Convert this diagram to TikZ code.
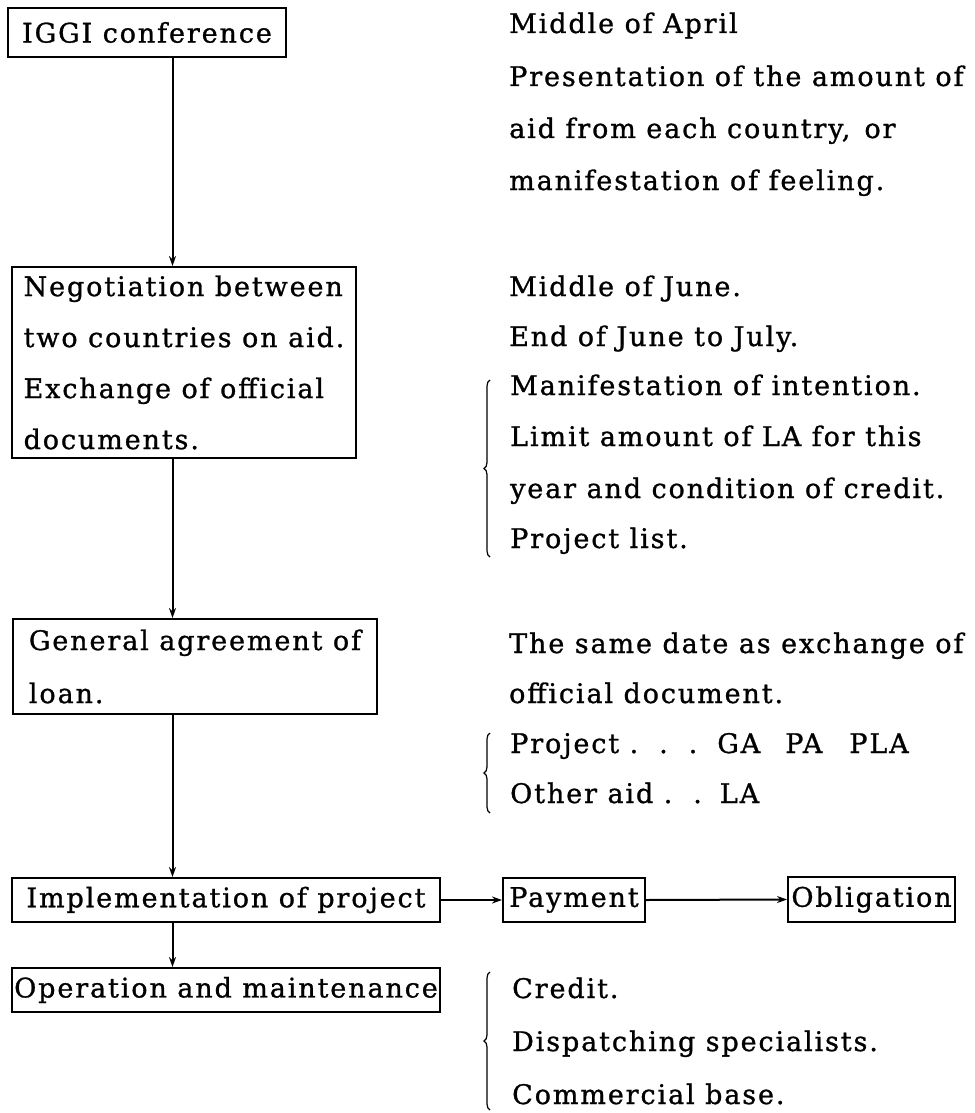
\documentclass[tikz,border=0pt]{standalone}
\usepackage{fontspec}
\newfontfamily\typefont{DejaVu Serif}[LetterSpace=7, FakeBold=1]
\usetikzlibrary{arrows.meta,decorations.pathreplacing}
\newcommand\boxtext{\typefont\fontsize{27}{51}\selectfont}
\newcommand\boxtextwide{\typefont\fontsize{27}{53}\selectfont}

\tikzset{
  stepbox/.style={draw, line width=2pt, rectangle, inner sep=0pt,
    align=left, font=\boxtext},
  note/.style={anchor=base west, inner sep=0pt, font=\boxtext},
  flow/.style={line width=2pt, -{Stealth[length=10pt,width=7pt]}},
  bracket/.style={line width=1.2pt, decorate,
    decoration={brace, amplitude=6pt, aspect=0.5}},
}

\begin{document}
\begin{tikzpicture}[x=1pt, y=-1pt]
  \useasboundingbox[fill=white] (0,0) rectangle (974,1113);

  % left column: the chain of steps
  \node[stepbox, minimum width=278pt, minimum height=49pt] (conf) at (147,32.5)
    {IGGI conference};
  \node[stepbox, minimum width=344pt, minimum height=191pt] (nego) at (184,362.5)
    {Negotiation between\\two countries on aid.\\Exchange of official\\documents.};
  \node[stepbox, font=\boxtextwide, minimum width=364pt, minimum height=95pt] (agree) at (195,666.5)
    {General agreement of\\loan.};
  \node[stepbox, minimum width=428pt, minimum height=44pt] (impl) at (226,900)
    {Implementation of project};
  \node[stepbox, minimum width=428pt, minimum height=44pt] (oper) at (226,990)
    {Operation and maintenance};
  \node[stepbox, minimum width=142pt, minimum height=44pt] (pay) at (574,900)
    {Payment};
  \node[stepbox, minimum width=167pt, minimum height=45pt] (oblig) at (871.5,899.5)
    {Obligation};

  % the vertical spine the arrows run along
  \coordinate (spine) at (172.5,0);
  \draw[flow] (conf.south -| spine) -- (nego.north -| spine);
  \draw[flow] (nego.south -| spine) -- (agree.north -| spine);
  \draw[flow] (agree.south -| spine) -- (impl.north -| spine);
  \draw[flow] (impl.south -| spine) -- (oper.north -| spine);
  \draw[flow] (impl.east) -- (pay.west);
  \draw[flow] (pay.east) -- (oblig.west);

  % right column: timing and notes
  \node[note] (t1) at (509,33) {Middle of April};
  \node[note] (t2) at (509,86) {Presentation of the amount of};
  \node[note] (t3) at (509,138) {aid from each country,\hspace{14pt}or};
  \node[note] (t4) at (509,190) {manifestation of feeling.};

  \node[note] (t5) at (509,296) {Middle of June.};
  \node[note] (t6) at (509,346) {End of June to July.};
  \node[note] (t7) at (510,395) {Manifestation of intention.};
  \node[note] (t8) at (510,446) {Limit amount of LA for this};
  \node[note] (t9) at (510,498) {year and condition of credit.};
  \node[note] (t10) at (510,548) {Project list.};

  \node[note] (t11) at (509,653) {The same date as exchange of};
  \node[note] (t12) at (509,703) {official document.};
  \node[note] (t13) at (510,753) {Project\ .\ \ .\ \ .\hspace{20pt}GA\hspace{25pt}PA\hspace{27pt}PLA};
  \node[note] (t14) at (510,803) {Other aid\ .\ \ .\hspace{18pt}LA};

  \node[note] (t15) at (512,998) {Credit.};
  \node[note] (t16) at (512,1051) {Dispatching specialists.};
  \node[note] (t17) at (512,1104) {Commercial base.};

  % braces grouping the notes
  \coordinate (bA1) at (490,557);
  \coordinate (bA2) at (490,380);
  \coordinate (bB1) at (490,813);
  \coordinate (bB2) at (490,733);
  \coordinate (bC1) at (490,1110);
  \coordinate (bC2) at (490,972);
  \draw[bracket] (bA1) -- (bA2);
  \draw[bracket] (bB1) -- (bB2);
  \draw[bracket] (bC1) -- (bC2);
\end{tikzpicture}
\end{document}
